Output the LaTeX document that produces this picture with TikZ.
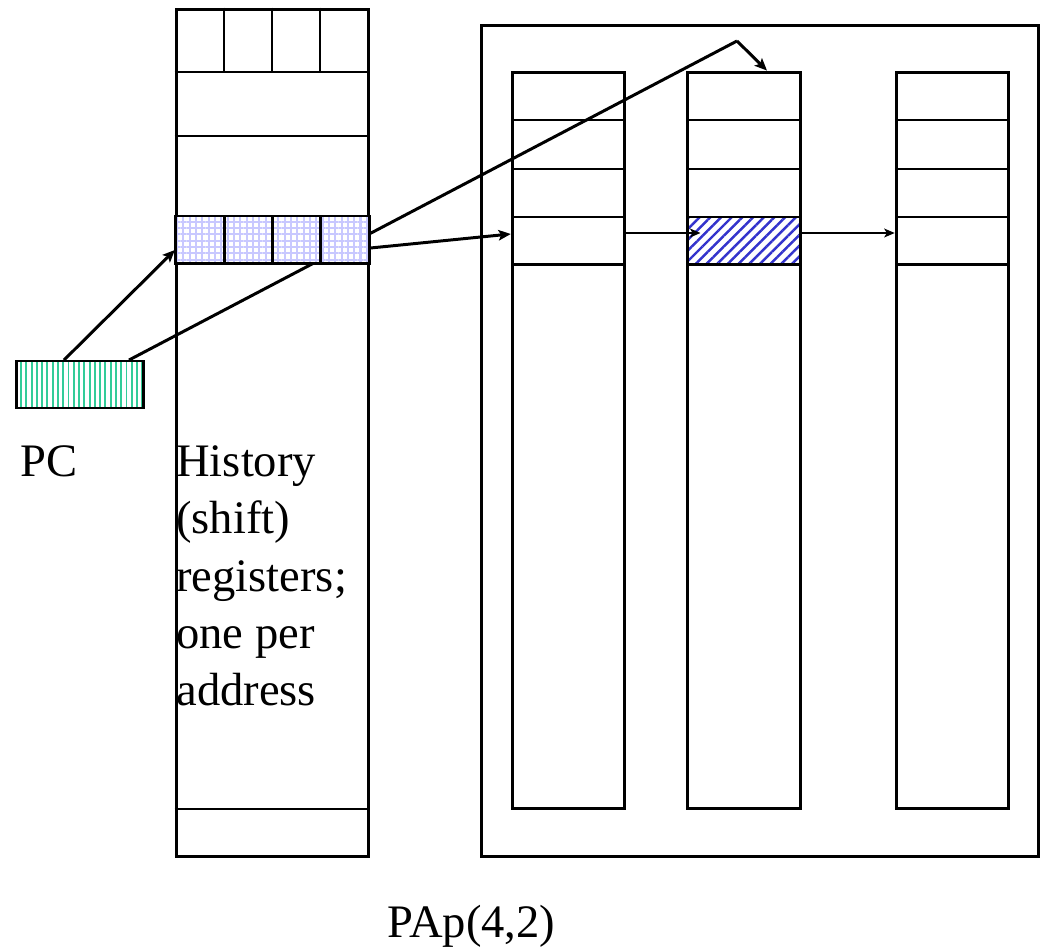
\documentclass[tikz,border=0pt]{standalone}
\usepackage{fontspec}
\setmainfont{Liberation Serif}
\usetikzlibrary{arrows.meta,patterns.meta}
\definecolor{pcverde}{RGB}{51,204,153}
\definecolor{griglia}{RGB}{200,200,255}
\definecolor{righe}{RGB}{51,51,204}
\tikzset{
  tabella/.style = {rectangle, draw, line width=1.7pt, inner sep=0},
  cella/.style   = {tabella, minimum width=0.965cm, minimum height=0.96cm, preaction={fill=white},
                    pattern={Hatch[angle=0,distance=3.6pt,line width=1.2pt]}, pattern color=griglia},
  riga/.style    = {line width=1.7pt},
  link/.style    = {line width=1.7pt},
  freccia/.style = {link, -{Stealth[length=7pt,width=6pt,inset=1.5pt]}},
  sottile/.style = {line width=1.1pt, -{Stealth[length=6pt,width=5pt,inset=1.5pt]}},
  et/.style      = {font=\fontsize{26.5}{32.7}\selectfont, inner sep=0}
}

\begin{document}
\begin{tikzpicture}[x=0.02cm, y=-0.02cm]

  \useasboundingbox (0,0) rectangle (1045,949);

  % registri di storia
  \node[tabella, minimum width=3.86cm, minimum height=16.96cm] (hist) at (272.5,433){};
  \foreach \y in {72,136,809} \draw[riga] (hist.west |- 0,\y) -- (hist.east |- 0,\y);
  \foreach \x in {224,272,320} \draw[riga] (hist.north -| \x,0) -- (\x,72);

  % PC
  \node[tabella, minimum width=2.56cm, minimum height=0.94cm,
        pattern={Lines[angle=90,distance=3pt,line width=1.1pt]}, pattern color=pcverde] (pc) at (80,384.5){};
  \coordinate (gomito) at (737,41);
  \draw[link] ([xshift=0.98cm]pc.north) -- (gomito);

  \foreach \i/\x in {1/200.1,2/248.4,3/296.6,4/344.9} \node[cella] (h\i) at (\x,240){};

  % tabelle dei pattern
  \node[tabella, minimum width=11.16cm, minimum height=16.64cm] (pap) at (760,441){};
  \foreach \c/\x in {1/568.5,2/744,3/952.5}{
    \node[tabella, minimum width=2.25cm, minimum height=14.74cm] (col\c) at (\x,440.5){};
    \foreach \y in {120,169} \draw[riga] (col\c.west |- 0,\y) -- (col\c.east |- 0,\y);
  }
  \node[tabella, minimum width=2.25cm, minimum height=0.96cm] (r1) at (568.5,241){};
  \node[tabella, minimum width=2.25cm, minimum height=0.96cm, preaction={fill=white},
        pattern={Lines[angle=45,distance=4.3pt,line width=1.4pt]}, pattern color=righe] (r2) at (744,241){};
  \node[tabella, minimum width=2.25cm, minimum height=0.96cm] (r3) at (952.5,241){};

  % frecce
  \draw[freccia] ([xshift=-0.32cm]pc.north) -- ([yshift=-0.2cm]h1.west);
  \draw[freccia] (gomito) -- ([xshift=0.46cm]col2.north);
  \draw[freccia] ([yshift=-0.16cm]h4.east) -- ([yshift=0.14cm]r1.west);
  \draw[sottile] ([yshift=0.16cm]r1.east) -- ([xshift=0.28cm,yshift=0.16cm]r2.west);
  \draw[sottile] ([yshift=0.16cm]r2.east) -- ([yshift=0.16cm]r3.west);

  % testi
  \node[et, anchor=base west] (pclab) at (20,477) {PC};
  \node[et, anchor=north west, align=left] (histlab) at (176,445) {History\\(shift)\\registers;\\one per\\address};
  \node[et, anchor=base] (titolo) at (471.5,937) {PAp(4,2)};

\end{tikzpicture}
\end{document}
